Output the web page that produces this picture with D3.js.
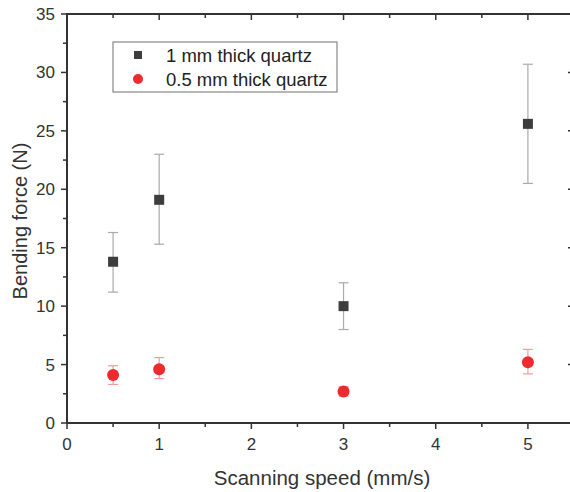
<!DOCTYPE html>
<html>
<head>
<meta charset="utf-8">
<script src="https://cdn.jsdelivr.net/npm/d3@7"></script>
<style>
  body { margin: 0; background: #fff; }
  svg { font-family: "Liberation Sans", Arial, sans-serif; }
</style>
</head>
<body>
<script>
const w = 570;
const h = 492;
const margin = {left: 67, top: 14, right: -4, bottom: 69};

// data
const speeds = [0.5, 1, 3, 5];
const thickForce = [13.8, 19.1, 10.0, 25.6];
const thickLow = [11.2, 15.3, 8.0, 20.5];
const thickHigh = [16.3, 23.0, 12.0, 30.7];
const thinForce = [4.1, 4.6, 2.7, 5.2];
const thinLow = [3.3, 3.8, 2.3, 4.2];
const thinHigh = [4.9, 5.6, 3.1, 6.3];
const seriesNames = ["1 mm thick quartz", "0.5 mm thick quartz"];

const xScale = d3.scaleLinear()
                 .domain([0, 5.5])
                 .range([margin.left, w - margin.right]);

const yScale = d3.scaleLinear()
                 .domain([0, 35])
                 .range([h - margin.bottom, margin.top]);

const svg = d3.select("body")
              .append("svg")
              .attr("width", w)
              .attr("height", h);

const axisColor = "#333";
const x0 = xScale(0), x1 = xScale(5.5), y0 = yScale(0), y1 = yScale(35);

// minor + major ticks
const xMajor = d3.range(0, 6, 1);
const xMinor = d3.range(0.5, 5.5, 1);
const yMajor = d3.range(0, 36, 5);
const yMinor = d3.range(2.5, 35, 5);

const ticks = svg.append("g").attr("stroke", axisColor).attr("stroke-width", 1.5);
// bottom (outward) and top (inward)
xMajor.forEach(v => {
  ticks.append("line").attr("x1", xScale(v)).attr("x2", xScale(v)).attr("y1", y0).attr("y2", y0 + 6);
  ticks.append("line").attr("x1", xScale(v)).attr("x2", xScale(v)).attr("y1", y1).attr("y2", y1 + 6);
});
xMinor.forEach(v => {
  ticks.append("line").attr("x1", xScale(v)).attr("x2", xScale(v)).attr("y1", y0).attr("y2", y0 + 4);
  ticks.append("line").attr("x1", xScale(v)).attr("x2", xScale(v)).attr("y1", y1).attr("y2", y1 + 4);
});
// left (outward) and right (inward)
yMajor.forEach(v => {
  ticks.append("line").attr("x1", x0 - 6).attr("x2", x0).attr("y1", yScale(v)).attr("y2", yScale(v));
  ticks.append("line").attr("x1", x1 - 6).attr("x2", x1).attr("y1", yScale(v)).attr("y2", yScale(v));
});
yMinor.forEach(v => {
  ticks.append("line").attr("x1", x0 - 4).attr("x2", x0).attr("y1", yScale(v)).attr("y2", yScale(v));
  ticks.append("line").attr("x1", x1 - 4).attr("x2", x1).attr("y1", yScale(v)).attr("y2", yScale(v));
});

// frame
svg.append("rect")
   .attr("x", x0).attr("y", y1)
   .attr("width", x1 - x0).attr("height", y0 - y1)
   .attr("fill", "none")
   .attr("stroke", axisColor)
   .attr("stroke-width", 2);

// tick labels
svg.append("g").selectAll("text")
   .data(xMajor)
   .enter()
   .append("text")
   .attr("x", d => xScale(d))
   .attr("y", y0 + 27)
   .attr("text-anchor", "middle")
   .attr("font-size", 17)
   .attr("fill", axisColor)
   .text(d => d);

svg.append("g").selectAll("text")
   .data(yMajor)
   .enter()
   .append("text")
   .attr("x", x0 - 12)
   .attr("y", d => yScale(d) + 6)
   .attr("text-anchor", "end")
   .attr("font-size", 17)
   .attr("fill", axisColor)
   .text(d => d);

// axis titles
svg.append("text")
   .attr("x", 322)
   .attr("y", 485)
   .attr("text-anchor", "middle")
   .attr("font-size", 20.5)
   .attr("fill", axisColor)
   .text("Scanning speed (mm/s)");

svg.append("text")
   .attr("transform", "translate(27,221) rotate(-90)")
   .attr("text-anchor", "middle")
   .attr("font-size", 20)
   .attr("fill", axisColor)
   .text("Bending force (N)");

// error bars
function errorBars(lo, hi, color) {
  const g = svg.append("g").attr("stroke", color).attr("stroke-width", 1.2);
  speeds.forEach((s, i) => {
    const cx = xScale(s);
    g.append("line").attr("x1", cx).attr("x2", cx).attr("y1", yScale(lo[i])).attr("y2", yScale(hi[i]));
    g.append("line").attr("x1", cx - 5).attr("x2", cx + 5).attr("y1", yScale(lo[i])).attr("y2", yScale(lo[i]));
    g.append("line").attr("x1", cx - 5).attr("x2", cx + 5).attr("y1", yScale(hi[i])).attr("y2", yScale(hi[i]));
  });
}
errorBars(thickLow, thickHigh, "#aaa");
errorBars(thinLow, thinHigh, "#f39a9a");

svg.append("g").selectAll("rect")
   .data(speeds)
   .enter()
   .append("rect")
   .attr("x", (d) => xScale(d) - 5)
   .attr("y", (d, i) => yScale(thickForce[i]) - 5)
   .attr("width", 10)
   .attr("height", 10)
   .attr("fill", "#3d3d3d");

svg.append("g").selectAll("circle")
   .data(speeds)
   .enter()
   .append("circle")
   .attr("cx", d => xScale(d))
   .attr("cy", (d, i) => yScale(thinForce[i]))
   .attr("r", 6)
   .attr("fill", "#ee2a2e");

// legend
const legend = svg.append("g");
legend.append("rect")
      .attr("x", 113).attr("y", 42)
      .attr("width", 224).attr("height", 50)
      .attr("fill", "#fff")
      .attr("stroke", "#888")
      .attr("stroke-width", 1.2);
legend.append("rect")
      .attr("x", 134).attr("y", 51)
      .attr("width", 8).attr("height", 8)
      .attr("fill", "#3d3d3d");
legend.append("circle")
      .attr("cx", 138).attr("cy", 79)
      .attr("r", 5)
      .attr("fill", "#ee2a2e");
legend.selectAll("text")
      .data(seriesNames)
      .enter()
      .append("text")
      .attr("x", 166)
      .attr("y", (d, i) => 62 + i * 24)
      .attr("font-size", 18.5)
      .attr("fill", "#222")
      .text(d => d);
</script>
</body>
</html>
